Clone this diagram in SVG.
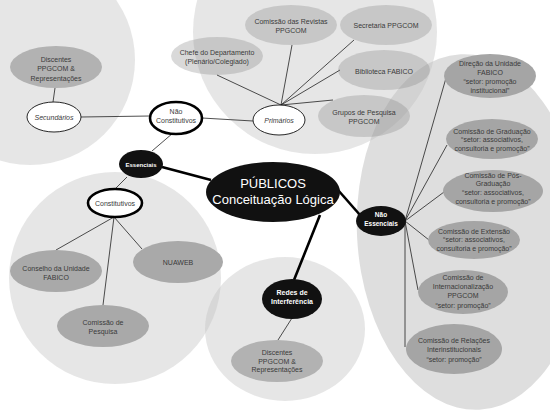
<svg xmlns="http://www.w3.org/2000/svg" width="550" height="412" viewBox="0 0 550 412">
<style>
  .region { fill: #c4c4c4; fill-opacity: 0.42; }
  .regionR { fill: #bdbdbd; fill-opacity: 0.5; }
  .thin { stroke: #222; stroke-width: 0.8; fill: none; }
  .thick { stroke: #000; stroke-width: 2.6; fill: none; }
  .nl { fill: #808080; fill-opacity: 0.3; }
  .nm { fill: #a9a9a9; }
  .nd { fill: #a5a5a5; }
  .nw { fill: #ffffff; stroke: #111; stroke-width: 0.9; }
  .nwb { fill: #ffffff; stroke: #000; stroke-width: 2.6; }
  .nb { fill: #111111; }
  text { font-family: "Liberation Sans", Arial, sans-serif; font-size: 7px; fill: #3a3a3a; text-anchor: middle; }
  .it { font-style: italic; }
  .wb { fill: #ffffff; font-weight: bold; font-size: 6.5px; }
  .big { fill: #ffffff; font-size: 13px; }
</style>

<g id="regions">
  <circle class="region" cx="30" cy="60" r="105"/>
  <circle class="region" cx="315" cy="32" r="122"/>
  <ellipse class="regionR" cx="470" cy="232" rx="113" ry="178" transform="rotate(-3 470 232)"/>
  <circle class="region" cx="115" cy="278" r="106"/>
  <ellipse class="region" cx="285" cy="329" rx="80" ry="72"/>
</g>

<g id="connectors">
  <line class="thin" x1="55" y1="88" x2="53" y2="102"/>
  <line class="thin" x1="81" y1="117" x2="150" y2="116"/>
  <line class="thin" x1="202" y1="118" x2="253" y2="121"/>
  <line class="thin" x1="281" y1="105" x2="217" y2="75"/>
  <line class="thin" x1="281" y1="105" x2="292" y2="45"/>
  <line class="thin" x1="281" y1="105" x2="354" y2="40"/>
  <line class="thin" x1="281" y1="105" x2="340" y2="70"/>
  <line class="thin" x1="281" y1="105" x2="333" y2="100"/>
  <line class="thin" x1="173" y1="133" x2="152" y2="151"/>
  <line class="thin" x1="127" y1="177" x2="115" y2="189"/>
  <line class="thin" x1="114" y1="217" x2="56" y2="250"/>
  <line class="thin" x1="114" y1="217" x2="103" y2="305"/>
  <line class="thin" x1="114" y1="217" x2="142" y2="249"/>
  <line class="thin" x1="292" y1="318" x2="278" y2="340"/>
  <line class="thin" x1="405" y1="221" x2="446" y2="78"/>
  <line class="thin" x1="405" y1="221" x2="447" y2="145"/>
  <line class="thin" x1="405" y1="221" x2="444" y2="192"/>
  <line class="thin" x1="405" y1="221" x2="429" y2="240"/>
  <line class="thin" x1="405" y1="221" x2="418" y2="290"/>
  <line class="thin" x1="405" y1="221" x2="405" y2="347"/>
  <line class="thick" x1="162" y1="167" x2="211" y2="180"/>
  <line class="thick" x1="338" y1="190" x2="360" y2="215"/>
  <line class="thick" x1="320" y1="215" x2="294" y2="280"/>
</g>

<g id="discentes-top">
  <ellipse class="nm" cx="56" cy="67" rx="46" ry="21" style="fill:#b2b2b2"/>
  <text x="56" y="61.5">Discentes</text>
  <text x="56" y="71">PPGCOM &amp;</text>
  <text x="56" y="80.5">Representações</text>
</g>
<g id="secundarios">
  <ellipse class="nw" cx="54" cy="117" rx="27" ry="15"/>
  <text class="it" x="54" y="119.5">Secundários</text>
</g>
<g id="nao-constitutivos">
  <ellipse class="nwb" cx="176" cy="118" rx="26" ry="16"/>
  <text x="176" y="113.5">Não</text>
  <text x="176" y="122.5">Constitutivos</text>
</g>
<g id="primarios">
  <ellipse class="nw" cx="279" cy="120" rx="26" ry="15"/>
  <text class="it" x="279" y="122.5">Primários</text>
</g>
<g id="chefe">
  <ellipse class="nl" cx="217" cy="56" rx="46" ry="19"/>
  <text x="217" y="54.5">Chefe do Departamento</text>
  <text x="217" y="63.5">(Plenário/Colegiado)</text>
</g>
<g id="revistas">
  <ellipse class="nl" cx="291" cy="25" rx="46" ry="20"/>
  <text x="291" y="23.5">Comissão das Revistas</text>
  <text x="291" y="32.5">PPGCOM</text>
</g>
<g id="secretaria">
  <ellipse class="nl" cx="386" cy="25" rx="46" ry="20"/>
  <text x="386" y="27.5">Secretaria PPGCOM</text>
</g>
<g id="biblioteca">
  <ellipse class="nl" cx="384" cy="70" rx="46" ry="20"/>
  <text x="384" y="73.5">Biblioteca FABICO</text>
</g>
<g id="grupos">
  <ellipse class="nl" cx="364" cy="116" rx="46" ry="21"/>
  <text x="364" y="114.5">Grupos de Pesquisa</text>
  <text x="364" y="123.5">PPGCOM</text>
</g>

<g id="direcao">
  <ellipse class="nd" cx="490" cy="76" rx="46" ry="22"/>
  <text x="490" y="65.5">Direção da Unidade</text>
  <text x="490" y="74.5">FABICO</text>
  <text x="490" y="83.5">“setor: promoção</text>
  <text x="490" y="92.5">institucional”</text>
</g>
<g id="graduacao">
  <ellipse class="nd" cx="492" cy="139" rx="46" ry="20"/>
  <text x="492" y="133.5">Comissão de Graduação</text>
  <text x="492" y="142">“setor: associativos,</text>
  <text x="492" y="150.5">consultoria e promoção”</text>
</g>
<g id="pos-graduacao">
  <ellipse class="nd" cx="493" cy="191" rx="50" ry="21"/>
  <text x="493" y="177.5">Comissão de Pós-</text>
  <text x="493" y="186">Graduação</text>
  <text x="493" y="195">“setor: associativos,</text>
  <text x="493" y="204">consultoria e promoção”</text>
</g>
<g id="extensao">
  <ellipse class="nd" cx="474" cy="240" rx="46" ry="19"/>
  <text x="474" y="233.5">Comissão de Extensão</text>
  <text x="474" y="242">“setor: associativos,</text>
  <text x="474" y="250.5">consultoria e promoção”</text>
</g>
<g id="internacionalizacao">
  <ellipse class="nd" cx="463" cy="292" rx="45" ry="22"/>
  <text x="463" y="279.5">Comissão de</text>
  <text x="463" y="289">Internacionalização</text>
  <text x="463" y="298">PPGCOM</text>
  <text x="463" y="307.5">“setor: promoção”</text>
</g>
<g id="relacoes">
  <ellipse class="nd" cx="454" cy="349" rx="48" ry="25"/>
  <text x="454" y="342.5">Comissão de Relações</text>
  <text x="454" y="352">Interinstitucionais</text>
  <text x="454" y="361.5">“setor: promoção”</text>
</g>
<g id="nao-essenciais">
  <ellipse class="nb" cx="381" cy="221" rx="25" ry="15"/>
  <text class="wb" x="381" y="217">Não</text>
  <text class="wb" x="381" y="226">Essenciais</text>
</g>

<g id="publicos">
  <ellipse class="nb" cx="273" cy="192" rx="67" ry="30"/>
  <text class="big" x="273" y="188">PÚBLICOS</text>
  <text class="big" x="273" y="204">Conceituação Lógica</text>
</g>

<g id="essenciais">
  <ellipse class="nb" cx="141" cy="164" rx="22" ry="14"/>
  <text class="wb" x="141" y="166.5" style="font-size:6px">Essenciais</text>
</g>
<g id="constitutivos">
  <ellipse class="nwb" cx="115" cy="203" rx="27" ry="14"/>
  <text x="115" y="205.5">Constitutivos</text>
</g>
<g id="conselho">
  <ellipse class="nm" cx="56" cy="271" rx="46" ry="21"/>
  <text x="56" y="270.5">Conselho da Unidade</text>
  <text x="56" y="279.5">FABICO</text>
</g>
<g id="nuaweb">
  <ellipse class="nm" cx="178" cy="262" rx="45" ry="21"/>
  <text x="178" y="264.5">NUAWEB</text>
</g>
<g id="comissao-pesquisa">
  <ellipse class="nm" cx="103" cy="326" rx="46" ry="21"/>
  <text x="103" y="324.5">Comissão de</text>
  <text x="103" y="333.5">Pesquisa</text>
</g>

<g id="redes">
  <ellipse class="nb" cx="292" cy="299" rx="30" ry="20"/>
  <text class="wb" x="292" y="294.5" style="font-size:7px">Redes de</text>
  <text class="wb" x="292" y="303.5" style="font-size:7px">Interferência</text>
</g>
<g id="discentes-bottom">
  <ellipse class="nm" cx="277" cy="361" rx="46" ry="21" style="fill:#b2b2b2"/>
  <text x="277" y="354.5">Discentes</text>
  <text x="277" y="363.5">PPGCOM &amp;</text>
  <text x="277" y="372">Representações</text>
</g>
</svg>
